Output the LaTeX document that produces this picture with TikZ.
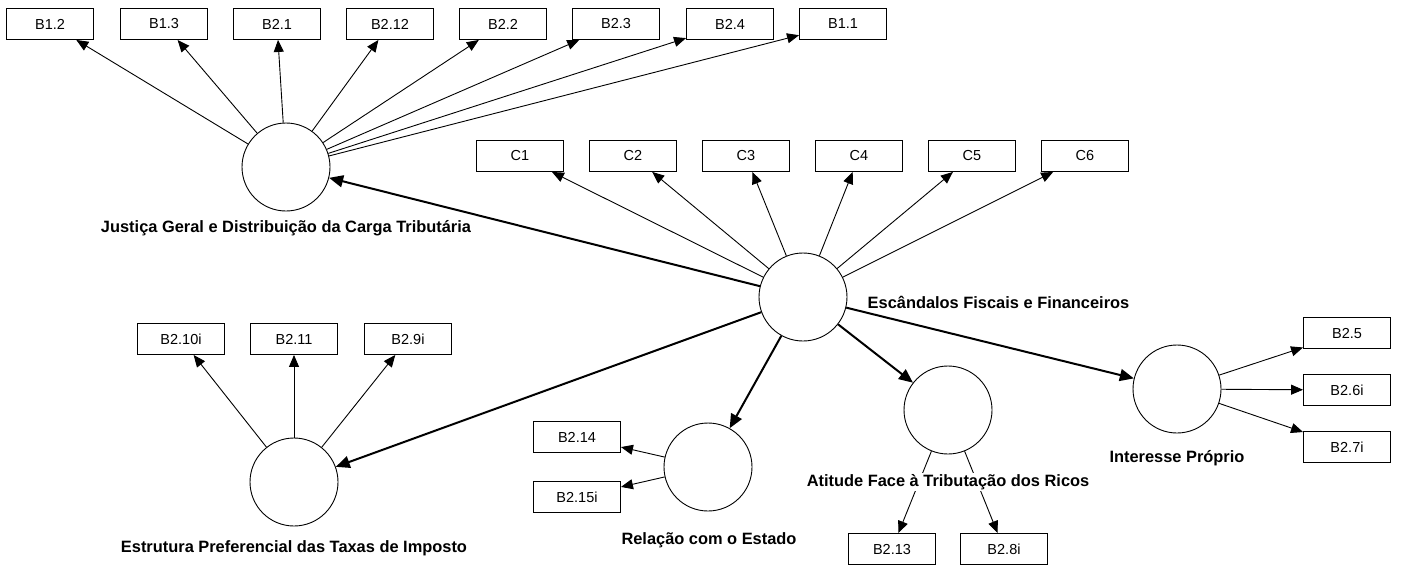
\documentclass[tikz,border=0pt]{standalone}
\usepackage{fontspec}
\setmainfont{Liberation Sans}
\usetikzlibrary{arrows.meta}
\tikzset{
  ind/.style={draw, line width=0.9pt, minimum width=87pt, minimum height=31pt, inner sep=0pt, font=\fontsize{14.5}{17}\selectfont},
  lat/.style={draw, circle, line width=0.9pt, minimum size=88pt, inner sep=0pt},
  lbl/.style={font=\bfseries\fontsize{16.4}{19}\selectfont, fill=white, inner sep=1.5pt},
  load/.style={line width=0.9pt, -{Triangle[length=12pt,width=10pt]}},
  struct/.style={line width=2pt, -{Triangle[length=14pt,width=12pt]}}
}

\begin{document}
\begin{tikzpicture}[x=1pt, y=-1pt]
        \useasboundingbox (0,0) rectangle (1402,566);
        \node[ind] (b12) at (50,24) {B1.2};
        \node[ind] (b13) at (164,24) {B1.3};
        \node[ind] (b21) at (277,24) {B2.1};
        \node[ind] (b212) at (390,24) {B2.12};
        \node[ind] (b22) at (503,24) {B2.2};
        \node[ind] (b23) at (616,24) {B2.3};
        \node[ind] (b24) at (730,24) {B2.4};
        \node[ind] (b11) at (843,24) {B1.1};
        \node[ind] (c1) at (520,156) {C1};
        \node[ind] (c2) at (633,156) {C2};
        \node[ind] (c3) at (746,156) {C3};
        \node[ind] (c4) at (859,156) {C4};
        \node[ind] (c5) at (972,156) {C5};
        \node[ind] (c6) at (1085,156) {C6};
        \node[ind] (b210) at (181,339) {B2.10i};
        \node[ind] (b211) at (294,339) {B2.11};
        \node[ind] (b29) at (408,339) {B2.9i};
        \node[ind] (b214) at (577,437) {B2.14};
        \node[ind] (b215) at (577,497) {B2.15i};
        \node[ind] (b213) at (892,549) {B2.13};
        \node[ind] (b28) at (1004,549) {B2.8i};
        \node[ind] (b25) at (1347,333) {B2.5};
        \node[ind] (b26) at (1347,390) {B2.6i};
        \node[ind] (b27) at (1347,447) {B2.7i};
        \node[lat] (just) at (286,167) {};
        \node[lat] (esc) at (803,297) {};
        \node[lat] (estr) at (294,482) {};
        \node[lat] (rel) at (708,467) {};
        \node[lat] (atit) at (948,410) {};
        \node[lat] (inter) at (1177,389) {};
        \foreach \b in {b12,b13,b21,b212,b22,b23,b24,b11}
          \draw[load] (just) -- (\b);
        \foreach \c in {c1,c2,c3,c4,c5,c6}
          \draw[load] (esc) -- (\c);
        \foreach \b in {b210,b211,b29}
          \draw[load] (estr) -- (\b);
        \foreach \b in {b214,b215}
          \draw[load] (rel) -- (\b);
        \foreach \b in {b213,b28}
          \draw[load] (atit) -- (\b);
        \foreach \b in {b25,b26,b27}
          \draw[load] (inter) -- (\b);
        \draw[struct] (esc) -- (just);
        \draw[struct] (esc) -- (estr);
        \draw[struct] (esc) -- (rel);
        \draw[struct] (esc) -- (atit);
        \draw[struct] (esc) -- (inter);
        \node[lbl] (justlbl) at (286,228) {Justiça Geral e Distribuição da Carga Tributária};
        \node[lbl, anchor=west] (esclbl) at (866,302) {Escândalos Fiscais e Financeiros};
        \node[lbl] (estrlbl) at (294,548) {Estrutura Preferencial das Taxas de Imposto};
        \node[lbl] (rellbl) at (709,540) {Relação com o Estado};
        \node[lbl] (atitlbl) at (948,482) {Atitude Face à Tributação dos Ricos};
        \node[lbl] (interlbl) at (1177,458) {Interesse Próprio};
    \end{tikzpicture}
\end{document}
